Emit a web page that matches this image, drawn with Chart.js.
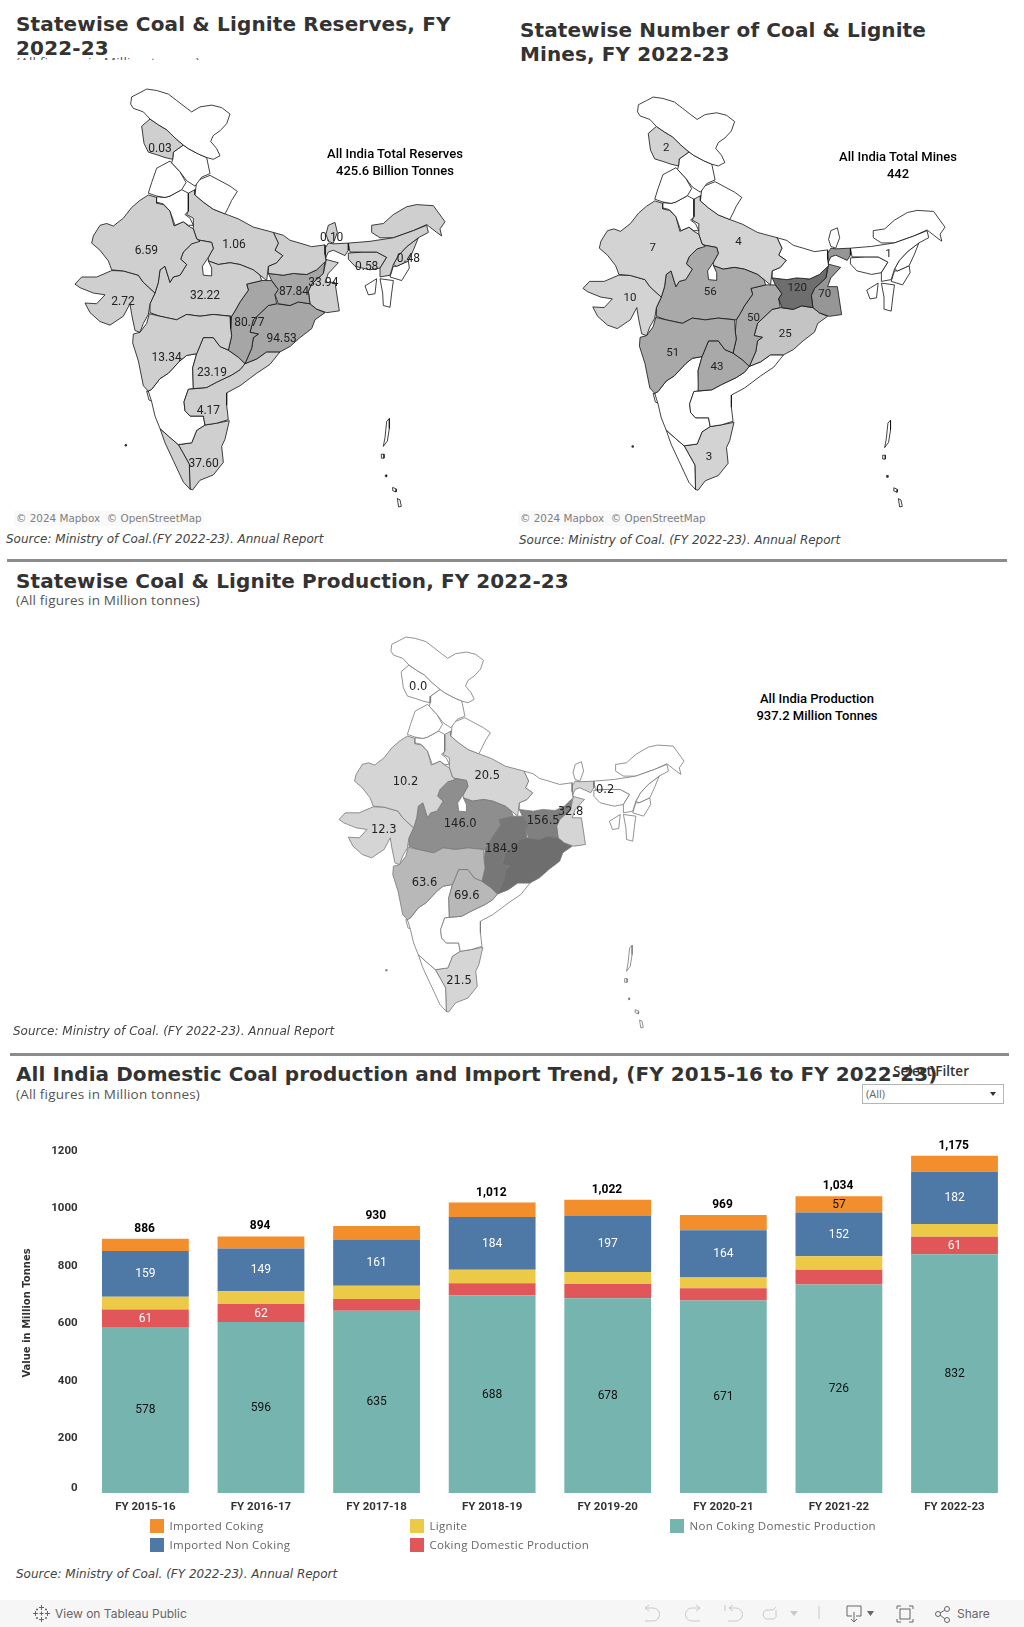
<!DOCTYPE html>
<html>
<head>
<meta charset="utf-8">
<title>Coal & Lignite</title>
<script src="https://cdn.jsdelivr.net/npm/chart.js@4/dist/chart.umd.min.js"></script>
<style>
html, body { margin: 0; padding: 0; background: #fff; }
body { position: relative; width: 1024px; height: 1627px; overflow: hidden; font-family: "DejaVu Sans", sans-serif; }
canvas { position: absolute; display: block; }
.t { position: absolute; white-space: nowrap; }
.title { font-weight: bold; font-size: 20px; line-height: 24px; color: #333; letter-spacing: 0.1px; }
.sub { font-family: "Open Sans", sans-serif; font-size: 13.5px; color: #555; line-height: 18px; letter-spacing: 0.2px; }
.source { font-style: italic; font-size: 12px; color: #444; line-height: 16px; }
.note { font-family: Roboto, sans-serif; font-weight: 500; font-size: 13px; color: #000; text-align: center; line-height: 17px; }
.credit { font-size: 10.4px; color: #808080; background: #f9f9f9; padding: 1px 2px; line-height: 13px; }
.legend { font-family: "Open Sans", sans-serif; font-size: 11.5px; color: #666; line-height: 14px; letter-spacing: 0.3px; }
.swatch { position: absolute; width: 14px; height: 14px; }
.rule { position: absolute; height: 3px; background: #8c8c8c; }
</style>
</head>
<body>

<div class="t title" style="left:16px;top:12px;letter-spacing:0.15px;">Statewise Coal &amp; Lignite Reserves, FY<br>2022-23</div>
<div style="position:absolute;left:16px;top:50px;width:300px;height:10px;overflow:hidden;"><div class="t sub" style="left:0;top:3px;">(All figures in Million tonnes)</div></div>
<div class="t title" style="left:520px;top:18px;">Statewise Number of Coal &amp; Lignite<br>Mines, FY 2022-23</div>

<canvas id="reservesMap"></canvas>
<canvas id="minesMap"></canvas>
<canvas id="productionMap"></canvas>

<div class="t note" style="left:295px;width:200px;top:145px;">All India Total Reserves<br>425.6 Billion Tonnes</div>
<div class="t note" style="left:798px;width:200px;top:148px;">All India Total Mines<br>442</div>
<div class="t note" style="left:717px;width:200px;top:690px;">All India Production<br>937.2 Million Tonnes</div>

<div class="t credit" style="left:14px;top:511px;">© 2024 Mapbox &nbsp;© OpenStreetMap</div>
<div class="t credit" style="left:518px;top:511px;">© 2024 Mapbox &nbsp;© OpenStreetMap</div>
<div class="t source" style="left:6px;top:531px;">Source: Ministry of Coal.(FY 2022-23). Annual Report</div>
<div class="t source" style="left:519px;top:532px;">Source: Ministry of Coal. (FY 2022-23). Annual Report</div>
<div class="rule" style="left:7px;width:1000px;top:559px;"></div>

<div class="t title" style="left:16px;top:569px;">Statewise Coal &amp; Lignite Production, FY 2022-23</div>
<div class="t sub" style="left:16px;top:591px;">(All figures in Million tonnes)</div>
<div class="t source" style="left:13px;top:1023px;">Source: Ministry of Coal. (FY 2022-23). Annual Report</div>
<div class="rule" style="left:10px;width:999px;top:1053px;"></div>

<div class="t title" style="left:16px;top:1062px;letter-spacing:0.07px;">All India Domestic Coal production and Import Trend, (FY 2015-16 to FY 2022-23)</div>
<div class="t sub" style="left:16px;top:1085px;">(All figures in Million tonnes)</div>
<div class="t" style="left:893px;top:1063px;font-family:'Open Sans',sans-serif;font-weight:600;font-size:13.5px;line-height:16px;color:#333;">Select Filter</div>
<div style="position:absolute;left:862px;top:1084px;width:140px;height:18px;border:1px solid #b5b5b5;background:#fff;">
  <div class="t" style="left:3px;top:2px;font-family:'Open Sans',sans-serif;font-size:11px;line-height:14px;color:#666;">(All)</div>
  <svg style="position:absolute;left:127px;top:7px;" width="6" height="5"><path d="M0 0H6L3 4Z" fill="#333"/></svg>
</div>

<canvas id="trendChart"></canvas>

<div id="legendBox"></div>
<div class="t source" style="left:16px;top:1566px;">Source: Ministry of Coal. (FY 2022-23). Annual Report</div>

<div style="position:absolute;left:0;top:1600px;width:1024px;height:27px;background:#f6f6f6;">
  <svg style="position:absolute;left:33px;top:4px;" width="17" height="19" stroke="#666" stroke-width="1" fill="none">
    <path d="M8.5 1v5M6 3.5h5M8.5 13v5M6 15.5h5M2.5 7v5M0 9.5h5M14.5 7v5M12 9.5h5M8.5 7.500v4M6.500 9.500h4M4 4.500v2M3 5.500h2M13 4.500v2M12 5.500h2M4 13v2M3 14h2M13 13v2M12 14h2"/>
  </svg>
  <div class="t" style="left:55px;top:6px;font-family:Inter,sans-serif;font-size:12px;line-height:15px;color:#666;">View on Tableau Public</div>
  <svg style="position:absolute;left:640px;top:4px;" width="384" height="23" fill="none" stroke="#c9c9c9" stroke-width="1">
    <path d="M5 4h8a6 6 0 0 1 0 13H5M5 4l4-3M5 4l4 3"/>
    <path d="M60 4h-8a6 6 0 0 0 0 13h8M60 4l-4-3M60 4l-4 3"/>
    <path d="M85 1v6M89 4h7a6 6 0 0 1 0 13h-8M89 4l4-3M89 4l4 3"/>
    <path d="M133 6h-7a5 5 0 0 0 0 9h7a3 3 0 0 0 3-4V6M133 6l3-3"/>
    <path d="M150 7h8l-4 5z" fill="#c9c9c9" stroke="none"/>
    <path d="M179 2v13"/>
    <g stroke="#666">
      <path d="M207 2h14v10h-5M212 12h-5V2M214 8v9"/>
      <path d="M211 15l3 3 3-3" />
      <path d="M227 7h7l-3.500 5z" fill="#666" stroke="none"/>
      <path d="M258 2h-1v3M258 2h3M272 2h1v3M272 2h-3M258 18h-1v-3M258 18h3M272 18h1v-3M272 18h-3"/>
      <rect x="260" y="5" width="10" height="10"/>
      <circle cx="298" cy="10" r="2.500"/><circle cx="307" cy="5" r="2.500"/><circle cx="307" cy="16" r="2.500"/>
      <path d="M300 9l5-3M300 11l5 4"/>
    </g>
  </svg>
  <div class="t" style="left:957px;top:6px;font-family:Inter,sans-serif;font-size:12px;line-height:15px;color:#666;">Share</div>
</div>

<script>
// Bar chart data, Million tonnes
const years = ['FY 2015-16', 'FY 2016-17', 'FY 2017-18', 'FY 2018-19', 'FY 2019-20', 'FY 2020-21', 'FY 2021-22', 'FY 2022-23'];
const nonCokingDomestic = [578, 596, 635, 688, 678, 671, 726, 832];
const cokingDomestic = [61, 62, 41, 43, 50, 42, 52, 61];
const lignite = [45, 45, 46, 47, 42, 38, 47, 44];
const importedNonCoking = [159, 149, 161, 184, 197, 164, 152, 182];
const importedCoking = [43, 42, 47, 50, 55, 54, 57, 56];
const totals = [886, 894, 930, 1012, 1022, 969, 1034, 1175];
const yTicks = [0, 200, 400, 600, 800, 1000, 1200];

// Which segments carry a value label in the picture, by year index
const cokingDomesticShown = [0, 1, 7];
const importedCokingShown = [6];

// Map data: state keys and values, one pair of lists per map
const reservesStates = ['jammu', 'rajasthan', 'uttar', 'madhya', 'gujarat', 'jharkhand', 'bengal', 'chhattisgarh', 'odisha', 'maharashtra', 'telangana', 'andhra', 'tamil', 'sikkim', 'meghalaya', 'nagaland', 'assam', 'arunachal', 'bihar', 'kerala'];
const reservesValues = [0.03, 6.59, 1.06, 32.22, 2.72, 87.84, 33.94, 80.77, 94.53, 13.34, 23.19, 4.17, 37.60, 0.10, 0.58, 0.48, 0.52, 0.09, 3.5, 0.01];
const reservesNoLabel = ['assam', 'arunachal', 'bihar', 'kerala'];

const minesStates = ['jammu', 'rajasthan', 'uttar', 'madhya', 'gujarat', 'jharkhand', 'bengal', 'chhattisgarh', 'odisha', 'maharashtra', 'telangana', 'tamil', 'assam'];
const minesValues = [2, 7, 4, 56, 10, 120, 70, 50, 25, 51, 43, 3, 1];
const minesNoLabel = [];

const productionStates = ['jammu', 'rajasthan', 'uttar', 'madhya', 'gujarat', 'jharkhand', 'bengal', 'chhattisgarh', 'odisha', 'maharashtra', 'telangana', 'tamil', 'meghalaya'];
const productionValues = [0.0, 10.2, 20.5, 146.0, 12.3, 156.5, 32.8, 184.9, 218.0, 63.6, 69.6, 21.5, 0.2];
const productionNoLabel = ['odisha'];

// State outlines, traced in map units (x to the right, y downwards)
const stateOutlines = {
    ladakh: [[392,290],[395,270],[420,258],[440,248],[470,252],[505,262],[530,280],[555,298],[575,312],[600,298],[635,293],[665,300],[690,318],[680,345],[660,365],[640,378],[632,395],[650,415],[660,435],[640,445],[620,440],[595,430],[565,415],[550,405],[525,385],[500,362],[475,348],[450,332],[430,312],[400,302]],
    jammu: [[425,352],[450,332],[475,348],[500,362],[525,385],[550,405],[520,425],[518,445],[495,440],[470,432],[445,425],[432,400]],
    himachal: [[518,445],[520,425],[550,405],[565,415],[595,430],[620,440],[630,485],[605,495],[585,520],[560,505],[540,480],[515,455]],
    punjab: [[510,450],[540,480],[558,510],[545,530],[510,548],[495,552],[470,548],[445,540],[455,510],[470,470]],
    uttarakhand: [[590,505],[630,490],[660,505],[690,520],[712,535],[695,560],[685,580],[675,598],[640,585],[610,565],[585,545]],
    haryana: [[495,552],[510,548],[545,530],[565,540],[565,590],[555,600],[570,610],[580,630],[565,630],[550,620],[525,630],[510,590],[490,570],[470,565],[470,550]],
    rajasthan: [[445,545],[470,552],[470,568],[490,572],[510,590],[522,632],[550,620],[565,632],[580,640],[590,668],[600,675],[575,682],[550,705],[542,725],[560,740],[540,770],[520,775],[510,790],[495,745],[480,755],[475,790],[465,820],[430,790],[415,770],[370,758],[335,755],[325,730],[300,700],[275,680],[280,660],[300,630],[320,625],[340,632],[370,610],[395,580],[420,560]],
    gujarat: [[225,795],[245,775],[290,775],[335,757],[370,758],[415,770],[430,790],[465,820],[450,850],[445,880],[430,905],[420,930],[405,925],[395,880],[390,850],[370,885],[330,910],[300,900],[270,875],[255,848],[290,850],[315,825],[280,820],[240,805]],
    maharashtra: [[400,935],[420,930],[440,905],[448,878],[480,885],[530,895],[560,880],[600,885],[640,880],[690,885],[692,920],[695,940],[685,980],[660,970],[640,945],[610,945],[590,990],[560,995],[540,1010],[505,1045],[480,1060],[455,1090],[445,1095],[430,1080],[415,1010],[398,960]],
    madhya: [[450,850],[465,820],[475,790],[480,755],[495,745],[510,790],[520,775],[540,770],[560,740],[542,725],[550,705],[575,682],[600,672],[635,678],[640,695],[625,720],[607,745],[610,770],[635,772],[635,750],[625,730],[655,740],[690,735],[720,740],[760,755],[780,770],[785,785],[740,795],[745,812],[720,845],[705,870],[695,885],[640,880],[600,885],[560,880],[530,895],[480,885],[450,875]],
    uttar: [[565,540],[585,530],[585,545],[610,565],[640,585],[675,598],[715,612],[760,635],[820,650],[835,680],[825,700],[848,715],[830,735],[805,745],[800,785],[780,770],[760,755],[720,740],[690,735],[655,740],[625,730],[625,720],[640,695],[635,678],[600,672],[590,668],[580,640],[580,610],[560,600],[565,590]],
    bihar: [[820,650],[850,658],[870,672],[900,680],[935,690],[975,685],[975,712],[978,730],[950,755],[920,768],[880,765],[850,770],[805,765],[805,745],[830,735],[848,715],[825,700],[835,680]],
    jharkhand: [[805,765],[850,770],[880,765],[920,768],[950,755],[975,730],[970,765],[935,795],[925,815],[930,850],[895,845],[870,855],[835,850],[825,825],[835,810],[815,785]],
    sikkim: [[985,630],[1005,622],[1012,650],[1000,680],[985,675],[978,655]],
    bengal: [[985,680],[1000,682],[1045,680],[1045,700],[1035,715],[1000,700],[985,705],[975,725],[1015,735],[985,765],[975,790],[1005,790],[1018,870],[980,875],[950,865],[930,850],[925,815],[935,795],[970,765],[978,730],[975,695]],
    chhattisgarh: [[785,785],[800,785],[815,785],[835,810],[825,825],[830,850],[805,855],[760,895],[750,930],[775,935],[760,945],[755,975],[735,1018],[715,1000],[685,980],[695,940],[692,920],[695,885],[705,870],[720,845],[745,812],[740,795]],
    odisha: [[830,850],[870,855],[895,845],[930,850],[950,865],[975,875],[945,895],[935,920],[900,945],[870,970],[840,985],[800,985],[770,1005],[735,1018],[755,975],[760,945],[775,935],[750,930],[760,895],[805,855]],
    telangana: [[610,945],[640,945],[660,970],[685,980],[715,1000],[735,1018],[720,1035],[695,1050],[650,1070],[620,1085],[580,1088],[578,1030],[590,990]],
    andhra: [[735,1018],[770,1005],[800,985],[840,985],[810,1020],[770,1045],[720,1080],[680,1100],[680,1135],[685,1175],[650,1185],[615,1190],[610,1165],[585,1165],[570,1165],[555,1150],[552,1125],[565,1090],[620,1085],[650,1070],[695,1050],[720,1035]],
    karnataka: [[445,1095],[455,1090],[480,1060],[505,1045],[540,1010],[560,995],[590,990],[578,1030],[580,1088],[565,1090],[552,1125],[555,1150],[570,1165],[610,1165],[615,1190],[590,1205],[575,1240],[535,1245],[510,1225],[480,1200],[465,1165],[455,1125]],
    goa: [[440,1095],[455,1098],[460,1125],[447,1120]],
    kerala: [[480,1200],[510,1225],[535,1245],[550,1270],[568,1300],[570,1370],[550,1350],[520,1290],[495,1240]],
    tamil: [[535,1245],[575,1240],[590,1205],[615,1190],[650,1185],[688,1178],[675,1230],[665,1250],[670,1295],[640,1330],[600,1345],[578,1372],[570,1370],[568,1300],[550,1270]],
    assam: [[1045,680],[1110,675],[1180,665],[1240,645],[1280,630],[1285,650],[1255,665],[1220,690],[1195,715],[1180,740],[1170,770],[1140,775],[1140,750],[1160,720],[1130,705],[1090,705],[1050,705]],
    arunachal: [[1115,630],[1150,625],[1180,600],[1220,578],[1250,572],[1300,575],[1335,620],[1320,640],[1325,660],[1310,650],[1280,628],[1240,645],[1180,665],[1140,665],[1115,650]],
    meghalaya: [[1045,708],[1090,705],[1130,705],[1160,720],[1140,750],[1110,755],[1065,745],[1045,725]],
    nagaland: [[1255,665],[1240,700],[1225,730],[1190,745],[1180,740],[1195,715],[1220,690]],
    manipur: [[1190,745],[1225,730],[1228,750],[1205,785],[1170,775],[1180,745]],
    mizoram: [[1140,780],[1180,785],[1175,820],[1170,860],[1150,855],[1148,820]],
    tripura: [[1130,780],[1125,822],[1105,825],[1095,800]],
    andaman: [[1160,1180],[1168,1172],[1168,1200],[1162,1235],[1150,1250],[1155,1225]],
    islandA: [[1144,1272],[1152,1272],[1152,1283],[1144,1283]],
    islandB: [[1156,1330],[1160,1330],[1160,1335],[1156,1335]],
    islandC: [[1178,1365],[1190,1370],[1188,1378],[1178,1374]],
    islandD: [[1192,1396],[1200,1400],[1204,1418],[1196,1420]],
    lakshadweep: [[375,1245],[379,1245],[379,1249],[375,1249]]
};

// Where a state's value label sits, in map units
const labelSpots = {
    jammu: [480,393], rajasthan: [439,680], uttar: [702,662], madhya: [615,806], gujarat: [369,822],
    jharkhand: [882,795], bengal: [970,770], chhattisgarh: [748,880], odisha: [845,927], maharashtra: [500,980],
    telangana: [636,1020], andhra: [625,1127], tamil: [611,1276], sikkim: [995,643], meghalaya: [1100,725],
    nagaland: [1225,702], assam: [1162,698]
};

function stepColor(value, steps) {
    for (const s of steps) {
        if (value <= s[0]) return s[1];
    }
    return steps[steps.length - 1][1];
}

const mapLabels = {
    id: 'mapLabels',
    afterDatasetsDraw(chart, args, opts) {
        const ctx = chart.ctx;
        ctx.save();
        ctx.font = opts.font;
        ctx.fillStyle = '#222';
        ctx.textAlign = 'center';
        ctx.textBaseline = 'middle';
        opts.items.forEach(function(it) {
            ctx.fillText(it.text, chart.scales.x.getPixelForValue(it.x), chart.scales.y.getPixelForValue(it.y));
        });
        ctx.restore();
    }
};

function drawMap(id, box, cfg) {
    const pad = 6;
    const canvas = document.getElementById(id);
    canvas.width = box.w + pad * 2;
    canvas.height = box.h + pad * 2;
    canvas.style.left = (box.x - pad) + 'px';
    canvas.style.top = (box.y - pad) + 'px';

    const datasets = Object.keys(stateOutlines).map(function(key) {
        const i = cfg.states.indexOf(key);
        const pts = stateOutlines[key].concat([stateOutlines[key][0]]);
        return {
            data: pts.map(function(p) { return { x: p[0], y: p[1] }; }),
            showLine: true,
            fill: 'shape',
            tension: 0,
            pointRadius: 0,
            borderWidth: cfg.lineWidth,
            borderColor: cfg.line,
            backgroundColor: i < 0 ? '#ffffff' : stepColor(cfg.values[i], cfg.steps),
            clip: false
        };
    });

    const items = [];
    cfg.states.forEach(function(key, i) {
        if (cfg.noLabel.indexOf(key) >= 0) return;
        const spot = (cfg.spots && cfg.spots[key]) || labelSpots[key];
        items.push({ text: cfg.format(cfg.values[i]), x: spot[0], y: spot[1] + cfg.shift });
    });

    new Chart(canvas, {
        type: 'scatter',
        data: { datasets: datasets },
        options: {
            responsive: false,
            animation: false,
            events: [],
            layout: { padding: pad },
            plugins: {
                legend: { display: false },
                tooltip: { enabled: false },
                mapLabels: { items: items, font: cfg.font }
            },
            scales: {
                x: { type: 'linear', display: false, min: 225, max: 1335 },
                y: { type: 'linear', display: false, min: 245, max: 1420, reverse: true }
            }
        },
        plugins: [mapLabels]
    });
}

drawMap('reservesMap', { x: 75, y: 87.5, w: 370, h: 419.5 }, {
    states: reservesStates, values: reservesValues, noLabel: reservesNoLabel,
    steps: [[50, '#cfcfcf'], [1000, '#a6a6a6']],
    line: '#111', lineWidth: 0.8, shift: 23,
    font: '12px Roboto, sans-serif',
    format: function(v) { return v.toFixed(2); }
});

drawMap('minesMap', { x: 582.7, y: 95.7, w: 362.7, h: 411.3 }, {
    states: minesStates, values: minesValues, noLabel: minesNoLabel,
    steps: [[1, '#ffffff'], [10, '#d3d3d3'], [25, '#c4c4c4'], [56, '#a9a9a9'], [70, '#969696'], [1000, '#6e6e6e']],
    line: '#111', lineWidth: 0.8, shift: 0,
    spots: { bengal: [966, 811], jammu: [480, 393] },
    font: '11.5px Roboto, sans-serif',
    format: function(v) { return String(v); }
});

drawMap('productionMap', { x: 339.3, y: 636, w: 345.7, h: 392 }, {
    states: productionStates, values: productionValues, noLabel: productionNoLabel,
    steps: [[0.2, '#ffffff'], [33, '#d5d5d5'], [70, '#b8b8b8'], [146, '#8e8e8e'], [157, '#808080'], [185, '#777777'], [1000, '#6e6e6e']],
    line: '#777', lineWidth: 0.8, shift: 4,
    spots: { meghalaya: [1081, 704] },
    font: '11.5px "DejaVu Sans", sans-serif',
    format: function(v) { return v.toFixed(1); }
});

// Stacked bars
const segmentLabels = {
    id: 'segmentLabels',
    afterDatasetsDraw(chart) {
        const ctx = chart.ctx;
        ctx.save();
        ctx.textAlign = 'center';
        ctx.textBaseline = 'middle';
        ctx.font = '12px Roboto, sans-serif';
        chart.data.datasets.forEach(function(ds, d) {
            chart.getDatasetMeta(d).data.forEach(function(bar, i) {
                if (ds.shownAt && ds.shownAt.indexOf(i) < 0) return;
                ctx.fillStyle = ds.labelColor;
                ctx.fillText(String(ds.data[i]), bar.x, (bar.y + bar.base) / 2 + 0.5);
            });
        });
        // totals above each stack
        ctx.font = 'bold 12px Roboto, sans-serif';
        ctx.fillStyle = '#000';
        ctx.textBaseline = 'bottom';
        const top = chart.getDatasetMeta(chart.data.datasets.length - 1).data;
        totals.forEach(function(v, i) {
            ctx.fillText(v.toLocaleString('en-US'), top[i].x - 0.8, top[i].y - 4);
        });
        // axis title, sits a little above the middle of the axis
        ctx.translate(27, 193);
        ctx.rotate(-Math.PI / 2);
        ctx.textBaseline = 'middle';
        ctx.font = 'bold 10px "DejaVu Sans", sans-serif';
        ctx.fillStyle = '#333';
        ctx.fillText('Value in Million Tonnes', 0, 0);
        ctx.restore();
    }
};

const trendCanvas = document.getElementById('trendChart');
trendCanvas.width = 1013;
trendCanvas.height = 400;
trendCanvas.style.left = '0px';
trendCanvas.style.top = '1120px';

new Chart(trendCanvas, {
    type: 'bar',
    data: {
        labels: years,
        datasets: [
            { label: 'Non Coking Domestic Production', data: nonCokingDomestic, backgroundColor: '#76b5af', labelColor: '#111' },
            { label: 'Coking Domestic Production', data: cokingDomestic, backgroundColor: '#e15759', labelColor: '#fff', shownAt: cokingDomesticShown },
            { label: 'Lignite', data: lignite, backgroundColor: '#edc948', labelColor: '#111', shownAt: [] },
            { label: 'Imported Non Coking', data: importedNonCoking, backgroundColor: '#4e79a7', labelColor: '#fff' },
            { label: 'Imported Coking', data: importedCoking, backgroundColor: '#f28e2b', labelColor: '#111', shownAt: importedCokingShown }
        ]
    },
    options: {
        responsive: false,
        animation: false,
        events: [],
        barPercentage: 0.751,
        categoryPercentage: 1,
        layout: { padding: { top: 28.6, left: 0, right: 0.7, bottom: 0 } },
        plugins: {
            legend: { display: false },
            tooltip: { enabled: false }
        },
        scales: {
            x: {
                stacked: true,
                grid: { display: false },
                border: { display: false },
                ticks: { color: '#333', font: { family: 'Roboto', size: 11.5, weight: 'bold' }, padding: -1, maxRotation: 0, autoSkip: false },
                afterFit: function(scale) { scale.height = 27.1; }
            },
            y: {
                stacked: true,
                min: 0,
                max: 1200,
                afterBuildTicks: function(scale) { scale.ticks = yTicks.map(function(v) { return { value: v }; }); },
                grid: { display: false },
                border: { display: false },
                ticks: {
                    color: '#333',
                    font: { family: 'Roboto', size: 11.5, weight: 'bold' },
                    padding: 2,
                    labelOffset: 2.5,
                    // the zero label sits a little above the axis in the picture
                    callback: function(v) { return v === 0 ? ['0', ''] : String(v); }
                },
                afterFit: function(scale) { scale.width = 87.6; }
            }
        }
    },
    plugins: [segmentLabels]
});

// Legend, laid out in the same three columns as the picture
const legendEntries = [
    ['Imported Coking', '#f28e2b', 150, 1519],
    ['Imported Non Coking', '#4e79a7', 150, 1538],
    ['Lignite', '#edc948', 410, 1519],
    ['Coking Domestic Production', '#e15759', 410, 1538],
    ['Non Coking Domestic Production', '#76b5af', 670, 1519]
];
const legendBox = document.getElementById('legendBox');
legendEntries.forEach(function(e) {
    const sw = document.createElement('div');
    sw.className = 'swatch';
    sw.style.cssText = 'left:' + e[2] + 'px;top:' + e[3] + 'px;background:' + e[1] + ';';
    legendBox.appendChild(sw);
    const tx = document.createElement('div');
    tx.className = 't legend';
    tx.style.cssText = 'left:' + (e[2] + 19.5) + 'px;top:' + e[3] + 'px;';
    tx.textContent = e[0];
    legendBox.appendChild(tx);
});
</script>
</body>
</html>
